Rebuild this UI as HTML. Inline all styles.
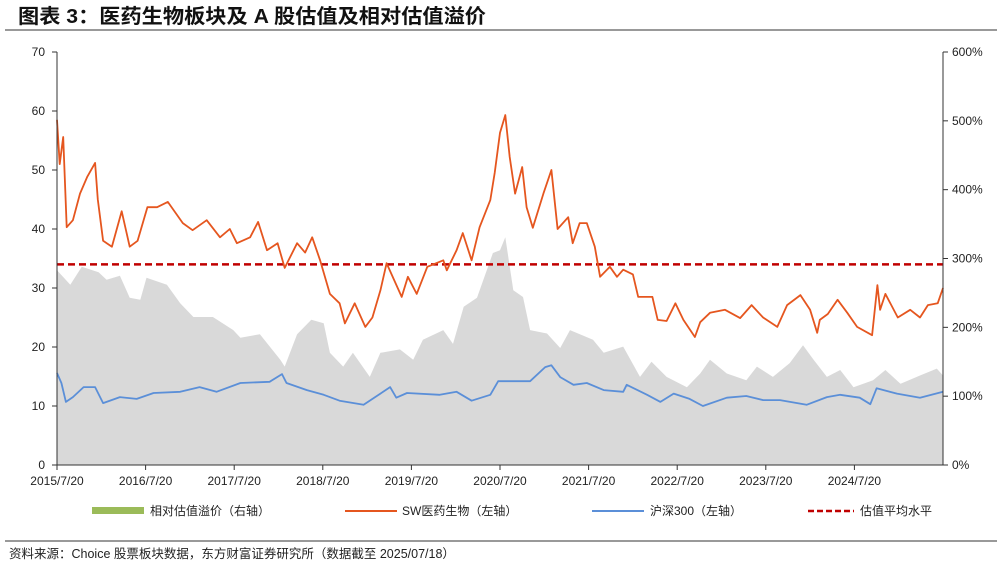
<!DOCTYPE html>
<html><head><meta charset="utf-8">
<style>
body{margin:0;background:#fff;width:997px;height:567px;overflow:hidden;font-family:"Liberation Sans","Noto Sans CJK SC",sans-serif;}
svg text{font-family:"Liberation Sans","Noto Sans CJK SC",sans-serif;}
</style></head>
<body>
<svg id="chart" width="997" height="567" viewBox="0 0 997 567" xmlns="http://www.w3.org/2000/svg">
<text x="18" y="23" font-size="20" font-weight="bold" fill="#111" textLength="468" lengthAdjust="spacingAndGlyphs">图表 3：医药生物板块及 A 股估值及相对估值溢价</text>
<line x1="5" y1="30" x2="997" y2="30" stroke="#333" stroke-width="1"/>
<g id="plot"></g>
<g>
<rect x="92" y="507" width="52" height="7" fill="#9bbb59"/>
<text x="150" y="515" font-size="12" fill="#222">相对估值溢价（右轴）</text>
<line x1="345" y1="511" x2="397" y2="511" stroke="#e5561f" stroke-width="2"/>
<text x="402" y="515" font-size="12" fill="#222">SW医药生物（左轴）</text>
<line x1="592" y1="511" x2="644" y2="511" stroke="#5b8fd8" stroke-width="2"/>
<text x="650" y="515" font-size="12" fill="#222">沪深300（左轴）</text>
<line x1="808" y1="511" x2="854" y2="511" stroke="#c00000" stroke-width="2.5" stroke-dasharray="6,3"/>
<text x="860" y="515" font-size="12" fill="#222">估值平均水平</text>
</g>
<line x1="5" y1="541" x2="997" y2="541" stroke="#333" stroke-width="1"/>
<text x="9" y="558" font-size="12.5" fill="#222">资料来源：Choice 股票板块数据，东方财富证券研究所（数据截至 2025/07/18）</text>
</svg>
<script>
const swT=[0,.03,.07,.11,.18,.26,.34,.43,.46,.52,.62,.73,.82,.91,1.02,1.13,1.25,1.42,1.53,1.69,1.84,1.95,2.03,2.18,2.27,2.37,2.49,2.57,2.71,2.80,2.88,2.97,3.08,3.19,3.25,3.36,3.48,3.56,3.65,3.72,3.89,3.96,4.06,4.18,4.36,4.40,4.51,4.58,4.68,4.77,4.89,4.94,5.00,5.06,5.11,5.17,5.25,5.30,5.37,5.49,5.58,5.65,5.77,5.82,5.90,5.98,6.07,6.13,6.24,6.32,6.39,6.50,6.56,6.72,6.78,6.88,6.98,7.07,7.20,7.26,7.37,7.54,7.71,7.84,7.97,8.13,8.24,8.39,8.50,8.58,8.61,8.70,8.81,8.92,9.03,9.20,9.26,9.29,9.35,9.49,9.63,9.74,9.83,9.94,10.0];
const swVals=[58.5,51,55.6,40.3,41.5,46,48.8,51.2,45,38,37,43,37,38,43.7,43.7,44.6,41,39.8,41.5,38.6,40,37.6,38.6,41.2,36.4,37.6,33.4,37.6,36,38.6,34.7,29,27.4,24,27.4,23.4,25,29.6,34.2,28.5,31.9,29,33.6,34.7,33,36.4,39.3,34.7,40.3,44.9,49.5,56.3,59.3,52.2,46,50.5,43.7,40.2,46,50,40,42,37.6,41,41,37,31.9,33.6,31.9,33.1,32.3,28.5,28.5,24.6,24.4,27.4,24.6,21.7,24.2,25.8,26.3,24.9,27.1,25,23.4,27.1,28.8,26.3,22.4,24.6,25.6,28,25.8,23.4,22,30.5,26.3,29,25,26.3,25,27.1,27.4,30];
const hsT=[0,.05,.10,.18,.30,.43,.52,.71,.90,1.09,1.39,1.61,1.80,2.07,2.40,2.54,2.59,2.82,3.01,3.19,3.46,3.65,3.76,3.83,3.95,4.32,4.51,4.68,4.89,4.98,5.34,5.51,5.58,5.68,5.83,5.98,6.17,6.39,6.43,6.66,6.81,6.96,7.14,7.29,7.56,7.78,7.97,8.16,8.46,8.69,8.84,9.06,9.18,9.25,9.48,9.74,10.0];
const hsVals=[15.6,13.9,10.7,11.5,13.2,13.2,10.5,11.5,11.2,12.2,12.4,13.2,12.4,13.9,14.1,15.4,13.9,12.7,11.9,10.9,10.2,12.1,13.2,11.4,12.2,11.9,12.4,10.9,11.9,14.2,14.2,16.6,16.9,14.9,13.6,13.9,12.7,12.4,13.6,11.9,10.7,12.1,11.2,10,11.4,11.7,11,11,10.2,11.5,11.9,11.4,10.3,13,12.1,11.4,12.4];
const prT=[0,.15,.28,.47,.56,.71,.82,.94,1.01,1.24,1.39,1.54,1.76,1.99,2.07,2.29,2.52,2.57,2.71,2.87,3.01,3.08,3.23,3.34,3.53,3.65,3.87,4.02,4.13,4.36,4.47,4.59,4.74,4.92,5.00,5.06,5.15,5.26,5.34,5.53,5.68,5.79,6.05,6.17,6.39,6.58,6.71,6.88,7.11,7.26,7.37,7.56,7.78,7.90,8.08,8.27,8.42,8.54,8.69,8.84,8.99,9.21,9.35,9.52,9.74,9.93,10.0];
const prVals=[283,262,288,280,269,275,243,240,272,262,235,215,215,196,185,190,153,143,190,211,206,163,143,163,128,163,168,153,182,196,176,230,243,308,312,331,254,244,196,191,170,196,182,163,172,128,150,128,113,133,153,133,123,143,128,148,174,153,128,138,113,123,138,118,130,140,130];
const avgLevel=34;
const leftTicks=[0,10,20,30,40,50,60,70];
const rightTicks=[0,100,200,300,400,500,600];
const xLabels=["2015/7/20","2016/7/20","2017/7/20","2018/7/20","2019/7/20","2020/7/20","2021/7/20","2022/7/20","2023/7/20","2024/7/20"];

const X0=57,X1=943,Y0=465,Y1=52;
const NS="http://www.w3.org/2000/svg";
const xs=t=>X0+t/10*(X1-X0);
const yl=v=>Y0-v/70*(Y0-Y1);
const yr=v=>Y0-v/600*(Y0-Y1);
const g=document.getElementById('plot');
function mk(tag,attrs){const e=document.createElementNS(NS,tag);for(const k in attrs)e.setAttribute(k,attrs[k]);g.appendChild(e);return e;}

let d=`M${xs(prT[0])},${Y0}`;
prT.forEach((t,i)=>{d+=`L${xs(t).toFixed(1)},${yr(prVals[i]).toFixed(1)}`;});
d+=`L${xs(prT[prT.length-1])},${Y0}Z`;
const area=mk('path',{d:d,fill:'#d9d9d9'});



function line(ts,vs,color,name){
  const p=ts.map((t,i)=>`${i?'L':'M'}${xs(t).toFixed(1)},${yl(vs[i]).toFixed(1)}`).join('');
  const e=mk('path',{d:p,fill:'none',stroke:color,'stroke-width':1.8,'stroke-linejoin':'round'});
  
  
}
const avg=mk('line',{x1:X0,x2:X1,y1:yl(avgLevel),y2:yl(avgLevel),stroke:'#c00000','stroke-width':2.5,'stroke-dasharray':'7,4'});


line(swT,swVals,'#e5561f','sw-pharma-line');
line(hsT,hsVals,'#5b8fd8','hs300-line');

const la=mk('line',{x1:X0,x2:X0,y1:Y1,y2:Y0,stroke:'#333'});


const ra=mk('line',{x1:X1,x2:X1,y1:Y1,y2:Y0,stroke:'#333'});


const xa=mk('line',{x1:X0,x2:X1,y1:Y0,y2:Y0,stroke:'#333'});


leftTicks.forEach(v=>{
  mk('line',{x1:X0-5,x2:X0,y1:yl(v),y2:yl(v),stroke:'#333'});
  const t=mk('text',{x:X0-12,y:yl(v)+4,'font-size':12,'text-anchor':'end',fill:'#222'});
  t.textContent=v;
  
  
});
rightTicks.forEach(v=>{
  mk('line',{x1:X1,x2:X1+5,y1:yr(v),y2:yr(v),stroke:'#333'});
  const t=mk('text',{x:X1+9,y:yr(v)+4,'font-size':12,fill:'#222'});
  t.textContent=v+'%';
  
  
});
xLabels.forEach((s,i)=>{
  const x=xs(i);
  mk('line',{x1:x,x2:x,y1:Y0,y2:Y0+5,stroke:'#333'});
  const t=mk('text',{x:x,y:Y0+20,'font-size':12,'text-anchor':'middle',fill:'#222'});
  t.textContent=s;
  
  
});
</script>
</body></html>
